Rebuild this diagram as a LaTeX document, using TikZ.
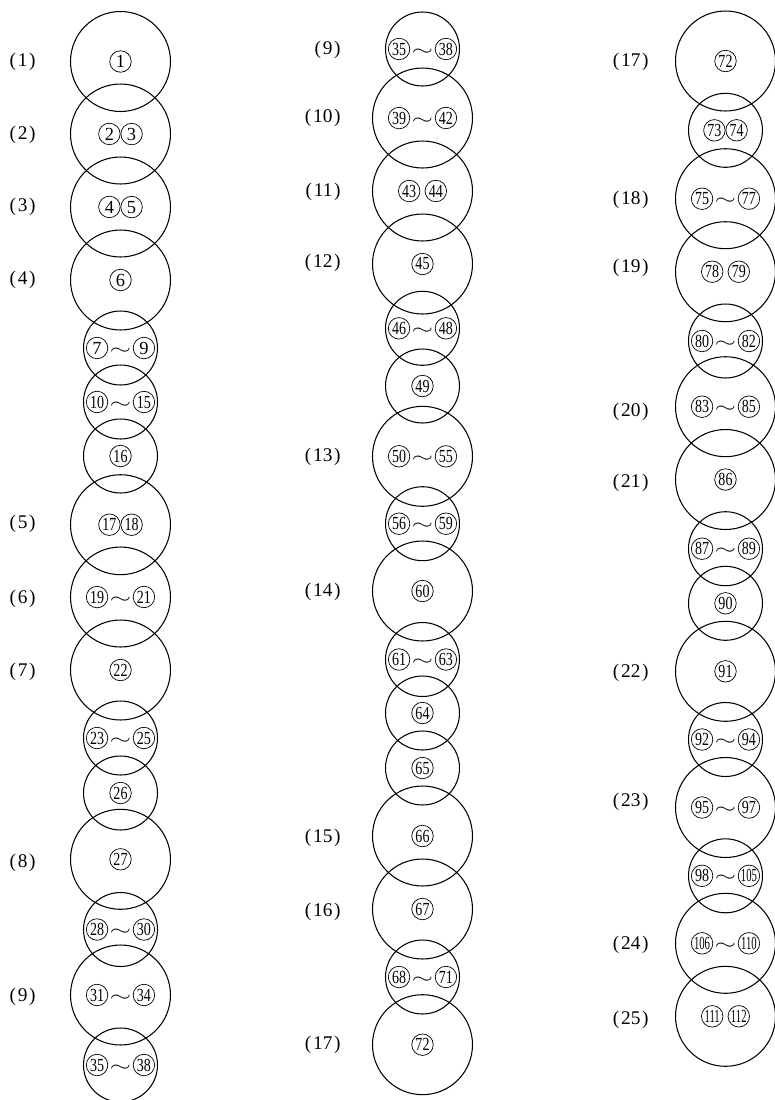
\documentclass[tikz,border=0pt]{standalone}
\usepackage{fontspec}
\setmainfont{Liberation Serif}
\usepackage{graphicx}

% circled number, digits squeezed when there are two or three
\newcommand\cn[1]{\tikz[baseline=(cn.base)]\node[shape=circle,draw,line width=0.4pt,inner sep=0pt,outer sep=0pt,minimum width=0.43cm,minimum height=0.43cm,font=\fontsize{10.5}{11}\selectfont] (cn) {\ifnum#1<10 #1\else\ifnum#1<100 \scalebox{0.76}[1]{#1}\else\scalebox{0.58}[1]{#1}\fi\fi};}
\newcommand\til{\kern1pt\scalebox{1.55}[1]{$\sim$}\kern1pt}
\newcommand\rng[2]{\cn{#1}\til\cn{#2}}
\newcommand\two[2]{\cn{#1}\cn{#2}}
\newcommand\twosp[2]{\cn{#1}\kern2.5pt\cn{#2}}

\begin{document}
\begin{tikzpicture}[x=0.02cm, y=-0.02cm,
  bigring/.style={shape=circle, draw, line width=0.6pt, inner sep=0pt, minimum size=2cm},
  smallring/.style={bigring, minimum size=1.48cm},
  lab/.style={anchor=east, inner sep=0pt, font=\fontsize{11}{13}\selectfont}]
  \useasboundingbox (0,0) rectangle (775,1100);

  % left column
  \foreach \n/\y/\s/\t in {a1/61.5/bigring/\cn{1}, a2/134/bigring/\two{2}{3},
      a3/207/bigring/\two{4}{5}, a4/280/bigring/\cn{6}, a5/348/smallring/\rng{7}{9},
      a6/402/smallring/\rng{10}{15}, a7/456/smallring/\cn{16}, a8/524.7/bigring/\two{17}{18},
      a9/597/bigring/\rng{19}{21}, a10/670/bigring/\cn{22}, a11/738/smallring/\rng{23}{25},
      a12/793/smallring/\cn{26}, a13/859.3/bigring/\cn{27}, a14/929.5/smallring/\rng{28}{30},
      a15/995/bigring/\rng{31}{34}, a16/1065/smallring/\rng{35}{38}}
    \node[\s] (\n) at (120.5,\y) {\t};

  % middle column
  \foreach \n/\y/\s/\t in {b1/49/smallring/\rng{35}{38}, b2/118/bigring/\rng{39}{42},
      b3/191/bigring/\twosp{43}{44}, b4/264/bigring/\cn{45}, b5/328.3/smallring/\rng{46}{48},
      b6/386/smallring/\cn{49}, b7/456.3/bigring/\rng{50}{55}, b8/523.7/smallring/\rng{56}{59},
      b9/591/bigring/\cn{60}, b10/659.5/smallring/\rng{61}{63}, b11/713/smallring/\cn{64},
      b12/768/smallring/\cn{65}, b13/836/bigring/\cn{66}, b14/909/bigring/\cn{67},
      b15/977/smallring/\rng{68}{71}, b16/1044.7/bigring/\cn{72}}
    \node[\s] (\n) at (422.5,\y) {\t};

  % right column
  \foreach \n/\y/\s/\t in {c1/61/bigring/\cn{72}, c2/130.3/smallring/\two{73}{74},
      c3/198.7/bigring/\rng{75}{77}, c4/271.7/bigring/\twosp{78}{79}, c5/341/smallring/\rng{80}{82},
      c6/406.7/bigring/\rng{83}{85}, c7/479.5/bigring/\cn{86}, c8/548.7/smallring/\rng{87}{89},
      c9/603.3/smallring/\cn{90}, c10/671.3/bigring/\cn{91}, c11/739.5/smallring/\rng{92}{94},
      c12/807.5/bigring/\rng{95}{97}, c13/875.8/smallring/\rng{98}{105},
      c14/943.3/bigring/\rng{106}{110}, c15/1016.3/bigring/\twosp{111}{112}}
    \node[\s] (\n) at (725.5,\y) {\t};

  % step labels
  \foreach \n/\x/\y/\t in {la1/36/61.7/1, la2/36/135/2, la3/36/207.3/3, la4/36/280/4,
      la5/36/524/5, la6/36/599.3/6, la7/36/671.7/7, la8/36/862.7/8, la9/36/996.7/9,
      lb1/341/50/9, lb2/341/118/10, lb3/341/192/11, lb4/341/263/12, lb5/341/457/13,
      lb6/341/592/14, lb7/341/838/15, lb8/341/911.7/16, lb9/341/1045/17,
      lc1/649/61.7/17, lc2/649/200/18, lc3/649/268/19, lc4/649/412/20, lc5/649/482.7/21,
      lc6/649/673.3/22, lc7/649/801.7/23, lc8/649/945/24, lc9/649/1020/25}
    \node[lab] (\n) at (\x,\y) {(\kern1pt\t\kern1pt)};
\end{tikzpicture}
\end{document}
